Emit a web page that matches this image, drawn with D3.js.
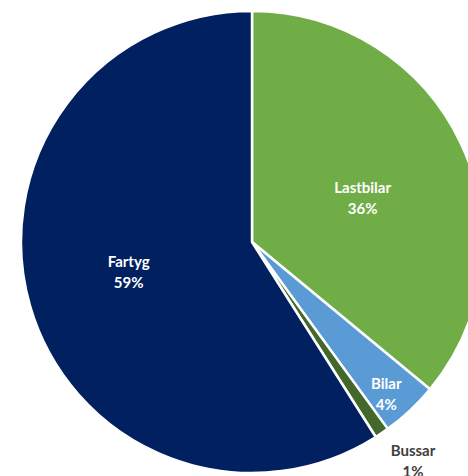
<!DOCTYPE html>
<html>
<head>
<meta charset="utf-8">
<script src="https://cdn.jsdelivr.net/npm/d3@7"></script>
<style>
  html, body { margin: 0; padding: 0; background: #fff; }
  svg { display: block; }
</style>
</head>
<body>
<div id="chart"></div>
<script>
// categories and shares (%), clockwise from 12 o'clock
const categories = ["Lastbilar", "Bilar", "Bussar", "Fartyg"];
const values = [36, 4, 1, 59];
const colors = ["#70AD47", "#5B9BD5", "#43682B", "#002060"];

const width = 468, height = 476;
const cx = 252, cy = 242, radius = 231;

const svg = d3.select("#chart")
  .append("svg")
  .attr("width", width)
  .attr("height", height);

const pie = d3.pie().sort(null).value(d => d.value);
const data = categories.map((c, i) => ({ name: c, value: values[i], color: colors[i] }));
const arcs = pie(data);

const arc = d3.arc().innerRadius(0).outerRadius(radius);

const g = svg.append("g").attr("transform", `translate(${cx},${cy})`);

g.selectAll("path")
  .data(arcs)
  .join("path")
  .attr("d", arc)
  .attr("fill", d => d.data.color)
  .attr("stroke", "#fff")
  .attr("stroke-width", 2.5)
  .attr("stroke-linejoin", "round");

// label placement: [radius, angle tweak in degrees] (Bussar sits outside)
const labelPos = {
  Lastbilar: [119, 3.6],
  Bilar: [203, 1.8],
  Bussar: [272, -2.1],
  Fartyg: [127, 2.5]
};

const labels = g.selectAll("text.lbl")
  .data(arcs)
  .join("text")
  .attr("class", "lbl")
  .attr("transform", d => {
    const [r, da] = labelPos[d.data.name];
    const a = (d.startAngle + d.endAngle) / 2 + da * Math.PI / 180;
    return `translate(${r * Math.sin(a)},${-r * Math.cos(a)})`;
  })
  .attr("text-anchor", "middle")
  .attr("font-family", "Lato, 'Open Sans', sans-serif")
  .attr("font-weight", "bold")
  .attr("font-size", 15)
  .attr("fill", d => d.data.name === "Bussar" ? "#404040" : "#fff");

labels.append("tspan")
  .attr("x", 0)
  .attr("y", -5.5)
  .text(d => d.data.name);

labels.append("tspan")
  .attr("x", 0)
  .attr("y", 15.5)
  .text(d => d.data.value + "%");
</script>
</body>
</html>
